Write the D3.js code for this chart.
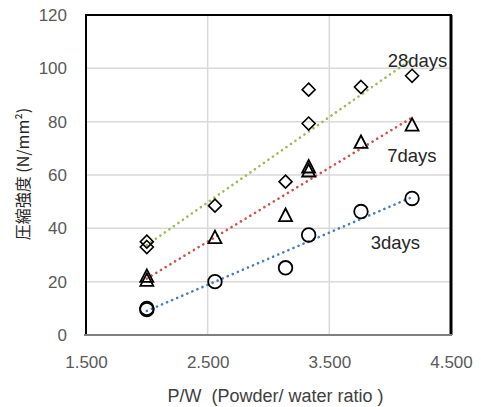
<!DOCTYPE html>
<html>
<head>
<meta charset="utf-8">
<script src="https://cdn.jsdelivr.net/npm/d3@7"></script>
<style>
  body { margin: 0; background: #fff; }
  svg { display: block; }
</style>
</head>
<body>
<div id="chart"></div>
<script>
// data
const x28 = [2.0, 2.0, 2.56, 3.14, 3.33, 3.33, 3.76, 4.18];
const y28 = [35, 33, 48.5, 57.5, 92, 79.3, 93, 97.2];
const x7 = [2.0, 2.0, 2.56, 3.14, 3.33, 3.33, 3.76, 4.18];
const y7 = [22, 20.5, 36.5, 44.8, 61.5, 63, 72.2, 78.7];
const x3 = [2.0, 2.0, 2.56, 3.14, 3.33, 3.76, 4.18];
const y3 = [9.5, 10, 20, 25.2, 37.5, 46.3, 51.2];
const xTicks = [1.5, 2.5, 3.5, 4.5];
const yTicks = [0, 20, 40, 60, 80, 100, 120];
const labels = [
  {text: '28days', x: 3.98, y: 100.6},
  {text: '7days', x: 3.975, y: 65},
  {text: '3days', x: 3.84, y: 32.4}
];

const width = 481, height = 407;
const margin = {left: 86, top: 15, right: 30, bottom: 72};
const w = width - margin.left - margin.right;
const h = height - margin.top - margin.bottom;

const svg = d3.select('#chart').append('svg')
  .attr('width', width)
  .attr('height', height);

const x = d3.scaleLinear().domain([1.5, 4.5]).range([0, w]);
const y = d3.scaleLinear().domain([0, 120]).range([h, 0]);

const g = svg.append('g').attr('transform', `translate(${margin.left},${margin.top})`);

// gridlines
g.append('g').selectAll('line').data(yTicks.slice(1, -1)).enter().append('line')
  .attr('x1', 0).attr('x2', w)
  .attr('y1', d => y(d)).attr('y2', d => y(d))
  .attr('stroke', '#d9d9d9').attr('stroke-width', 1.5);
g.append('g').selectAll('line').data(xTicks.slice(1, -1)).enter().append('line')
  .attr('y1', 0).attr('y2', h)
  .attr('x1', d => x(d)).attr('x2', d => x(d))
  .attr('stroke', '#d9d9d9').attr('stroke-width', 1.5);

// tick labels
const yAxis = d3.axisLeft(y).tickValues(yTicks).tickSize(0).tickPadding(19);
g.append('g').call(yAxis)
  .call(s => s.select('.domain').remove())
  .selectAll('text')
  .style('font-family', 'Liberation Sans, Arial, sans-serif')
  .style('font-size', '17px')
  .attr('fill', '#595959');

const xAxis = d3.axisBottom(x).tickValues(xTicks).tickSize(0).tickPadding(21)
  .tickFormat(d3.format('.3f'));
g.append('g').attr('transform', `translate(0,${h})`).call(xAxis)
  .call(s => s.select('.domain').remove())
  .selectAll('text')
  .style('font-family', 'Liberation Sans, Arial, sans-serif')
  .style('font-size', '17px')
  .attr('fill', '#595959');

// linear trend lines
function fit(xs, ys) {
  const mx = d3.mean(xs), my = d3.mean(ys);
  let sxy = 0, sxx = 0;
  xs.forEach((v, i) => { sxy += (v - mx) * (ys[i] - my); sxx += (v - mx) * (v - mx); });
  const b = sxy / sxx;
  const a = my - b * mx;
  const x0 = d3.min(xs), x1 = d3.max(xs);
  return [[x0, a + b * x0], [x1, a + b * x1]];
}
const trends = [
  {xs: x28, ys: y28, color: '#9bbb59'},
  {xs: x7, ys: y7, color: '#d0504d'},
  {xs: x3, ys: y3, color: '#4a7ebb'}
];
const line = d3.line().x(d => x(d[0])).y(d => y(d[1]));
trends.forEach(t => {
  g.append('path')
    .attr('d', line(fit(t.xs, t.ys)))
    .attr('fill', 'none')
    .attr('stroke', t.color)
    .attr('stroke-width', 2.6)
    .attr('stroke-linecap', 'round')
    .attr('stroke-dasharray', '0.1 5.4');
});

// markers
const pts28 = x28.map((v, i) => [v, y28[i]]);
const pts7 = x7.map((v, i) => [v, y7[i]]);
const pts3 = x3.map((v, i) => [v, y3[i]]);

g.append('g').selectAll('path').data(pts28).enter().append('path')
  .attr('transform', d => `translate(${x(d[0])},${y(d[1])})`)
  .attr('d', 'M0,-6.5L6.5,0L0,6.5L-6.5,0Z')
  .attr('fill', 'none').attr('stroke', '#000').attr('stroke-width', 1.6);

g.append('g').selectAll('path').data(pts7).enter().append('path')
  .attr('transform', d => `translate(${x(d[0])},${y(d[1])})`)
  .attr('d', 'M0,-7L6.5,5.5L-6.5,5.5Z')
  .attr('fill', 'none').attr('stroke', '#000').attr('stroke-width', 1.8)
  .attr('stroke-linejoin', 'miter');

g.append('g').selectAll('circle').data(pts3).enter().append('circle')
  .attr('cx', d => x(d[0])).attr('cy', d => y(d[1]))
  .attr('r', 6.8)
  .attr('fill', 'none').attr('stroke', '#000').attr('stroke-width', 1.8);

// series labels
g.append('g').selectAll('text').data(labels).enter().append('text')
  .attr('x', d => x(d.x)).attr('y', d => y(d.y))
  .style('font-family', 'Liberation Sans, Arial, sans-serif')
  .style('font-size', '18.5px')
  .attr('fill', '#262626')
  .text(d => d.text);

// plot border and bottom axis line
g.append('rect')
  .attr('x', 0).attr('y', 0).attr('width', w).attr('height', h)
  .attr('fill', 'none').attr('stroke', '#000').attr('stroke-width', 2);
g.append('line')
  .attr('x1', w).attr('x2', w).attr('y1', 0).attr('y2', h)
  .attr('stroke', '#000').attr('stroke-width', 3);
g.append('line')
  .attr('x1', -2).attr('x2', w + 1).attr('y1', h).attr('y2', h)
  .attr('stroke', '#7f7f7f').attr('stroke-width', 2);

// axis titles
svg.append('text')
  .attr('x', margin.left + w / 2 + 7).attr('y', 402)
  .attr('text-anchor', 'middle')
  .style('font-family', 'Liberation Sans, Arial, sans-serif')
  .style('font-size', '18px')
  .attr('fill', '#404040')
  .attr('xml:space', 'preserve')
  .text('P/W  (Powder/ water ratio )');

svg.append('text')
  .attr('transform', 'translate(29,174) rotate(-90)')
  .attr('text-anchor', 'middle')
  .style('font-family', 'Noto Sans CJK JP, sans-serif')
  .style('font-size', '16px')
  .attr('fill', '#262626')
  .text('圧縮強度 (N/mm²)');
</script>
</body>
</html>
